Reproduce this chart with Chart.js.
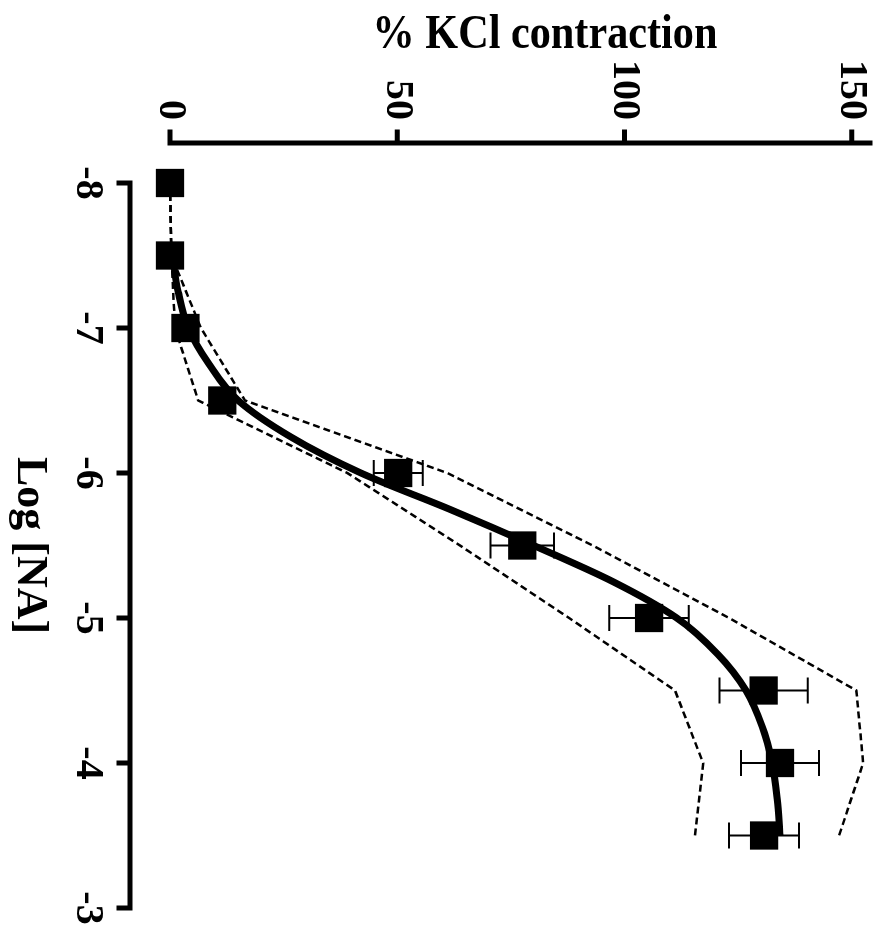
<!DOCTYPE html>
<html>
<head>
<meta charset="utf-8">
<script src="https://cdn.jsdelivr.net/npm/chart.js@4.4.1/dist/chart.umd.min.js"></script>
<style>
  html, body { margin: 0; padding: 0; background: #fff; overflow: hidden; }
  /* the figure is printed turned a quarter turn clockwise, so the chart is
     drawn upright and the whole box is rotated */
  #wrap {
    position: absolute; left: 0; top: 0; width: 929px; height: 887px;
    transform-origin: 0 0; transform: translateX(887px) rotate(90deg);
  }
</style>
</head>
<body>
<div id="wrap"><canvas id="chart" width="929" height="887"></canvas></div>
<script>
// ─── Data ────────────────────────────────────────────────────────────────────
const logNA           = [-8, -7.5, -7, -6.5, -6, -5.5, -5, -4.5, -4, -3.5];
const meanContraction = [0, 0, 3.4, 11.5, 50.2, 77.5, 105.4, 130.6, 134.2, 130.7];
const semContraction  = [0, 0, 0, 0, 5.4, 7.0, 8.75, 9.7, 8.6, 7.7];

// dashed confidence band, lower and upper edge (same x as the means)
const bandLower = [0, 0.3, 1.1, 6.2, 39, 63.8, 87.8, 111.1, 117.3, 115.5];
const bandUpper = [0, 0.3, 6.8, 16.5, 61, 93, 123, 151, 152.5, 147.2];

// fitted curve
const curveX = [-7.5, -7.25, -7, -6.75, -6.5, -6.25, -6, -5.75, -5.5, -5.25, -5, -4.75, -4.5, -4.25, -4, -3.75, -3.5];
const curveY = [0.5, 1.8, 4.0, 8.6, 15, 26.5, 42, 61.5, 80, 97.5, 111.5, 120.5, 126.7, 130.3, 132.5, 133.6, 134.2];

const xTicks = [-8, -7, -6, -5, -4, -3];
const yTicks = [0, 50, 100, 150];
const yAxisEnd = 154;

const xTitle = "Log [NA]";
const yTitle = "% KCl contraction";

const SERIF = "'Liberation Serif', 'Times New Roman', serif";

const pts = (xs, ys) => xs.map((x, i) => ({ x, y: ys[i] }));

// ─── Offset (Prism-like) axes, error bars and the y title ─────────────────────
const figureExtras = {
    id: "figureExtras",
    afterDatasetsDraw(chart) {
        const { ctx, scales: { x, y } } = chart;
        ctx.save();
        ctx.strokeStyle = "#000";
        ctx.fillStyle = "#000";

        // SEM error bars
        ctx.lineWidth = 2;
        logNA.forEach((v, i) => {
            if (!semContraction[i]) return;
            const px = x.getPixelForValue(v);
            const lo = y.getPixelForValue(meanContraction[i] - semContraction[i]);
            const hi = y.getPixelForValue(meanContraction[i] + semContraction[i]);
            ctx.beginPath();
            ctx.moveTo(px, lo); ctx.lineTo(px, hi);
            ctx.moveTo(px - 13, lo); ctx.lineTo(px + 13, lo);
            ctx.moveTo(px - 13, hi); ctx.lineTo(px + 13, hi);
            ctx.stroke();
        });

        // axes, pulled away from the plot area
        const axisY = y.getPixelForValue(0) + 40;
        const axisX = x.getPixelForValue(xTicks[0]) - 40;
        ctx.lineWidth = 5;
        ctx.lineCap = "square";
        ctx.beginPath();
        ctx.moveTo(x.getPixelForValue(xTicks[0]), axisY);
        ctx.lineTo(x.getPixelForValue(xTicks[xTicks.length - 1]), axisY);
        xTicks.forEach((t) => {
            const p = x.getPixelForValue(t);
            ctx.moveTo(p, axisY);
            ctx.lineTo(p, axisY + 11);
        });
        ctx.moveTo(axisX, y.getPixelForValue(0));
        ctx.lineTo(axisX, y.getPixelForValue(yAxisEnd));
        yTicks.forEach((t) => {
            const p = y.getPixelForValue(t);
            ctx.moveTo(axisX, p);
            ctx.lineTo(axisX - 11, p);
        });
        ctx.stroke();

        // y axis title (its centre sits above the middle of the axis)
        ctx.translate(48, y.getPixelForValue(82.5));
        ctx.rotate(-Math.PI / 2);
        ctx.scale(0.88, 1);
        ctx.font = `bold 48px ${SERIF}`;
        ctx.textAlign = "center";
        ctx.textBaseline = "alphabetic";
        ctx.fillText(yTitle, 0, 0);
        ctx.restore();
    },
};

const lineDefaults = { showLine: true, borderColor: "#000", pointRadius: 0, clip: false };

new Chart(document.getElementById("chart"), {
    type: "scatter",
    data: {
        datasets: [
            { ...lineDefaults, data: pts(logNA, bandLower), borderWidth: 2.5, borderDash: [7, 4] },
            { ...lineDefaults, data: pts(logNA, bandUpper), borderWidth: 2.5, borderDash: [7, 4] },
            { ...lineDefaults, data: pts(curveX, curveY), borderWidth: 7, cubicInterpolationMode: "monotone" },
            {
                data: pts(logNA, meanContraction),
                pointStyle: "rect",
                pointRadius: 20,
                pointBackgroundColor: "#000",
                pointBorderWidth: 0,
                clip: false,
            },
        ],
    },
    options: {
        responsive: false,
        devicePixelRatio: 1,
        animation: false,
        layout: { autoPadding: false, padding: { top: 17, right: 21, left: 0, bottom: 0 } },
        plugins: { legend: { display: false }, tooltip: { enabled: false } },
        scales: {
            x: {
                type: "linear",
                min: xTicks[0],
                max: xTicks[xTicks.length - 1],
                afterBuildTicks: (s) => { s.ticks = xTicks.map((value) => ({ value })); },
                // fixed box; the big tick padding must not eat into the plot width
                afterFit: (s) => { s.height = 170; s.paddingLeft = 0; s.paddingRight = 0; },
                grid: { display: false },
                border: { display: false },
                ticks: {
                    color: "#000",
                    padding: 51,
                    maxRotation: 0,
                    font: { family: SERIF, weight: "bold", size: 40 },
                },
                title: {
                    display: true,
                    text: xTitle,
                    color: "#000",
                    padding: { top: 0, bottom: 3 },
                    font: { family: SERIF, weight: "bold", size: 44 },
                },
            },
            y: {
                type: "linear",
                min: 0,
                max: yAxisEnd,
                afterBuildTicks: (s) => { s.ticks = yTicks.map((value) => ({ value })); },
                afterFit: (s) => { s.width = 183; s.paddingTop = 0; s.paddingBottom = 0; },
                grid: { display: false },
                border: { display: false },
                ticks: {
                    color: "#000",
                    padding: 55,
                    font: { family: SERIF, weight: "bold", size: 40 },
                },
            },
        },
    },
    plugins: [figureExtras],
});
</script>
</body>
</html>
